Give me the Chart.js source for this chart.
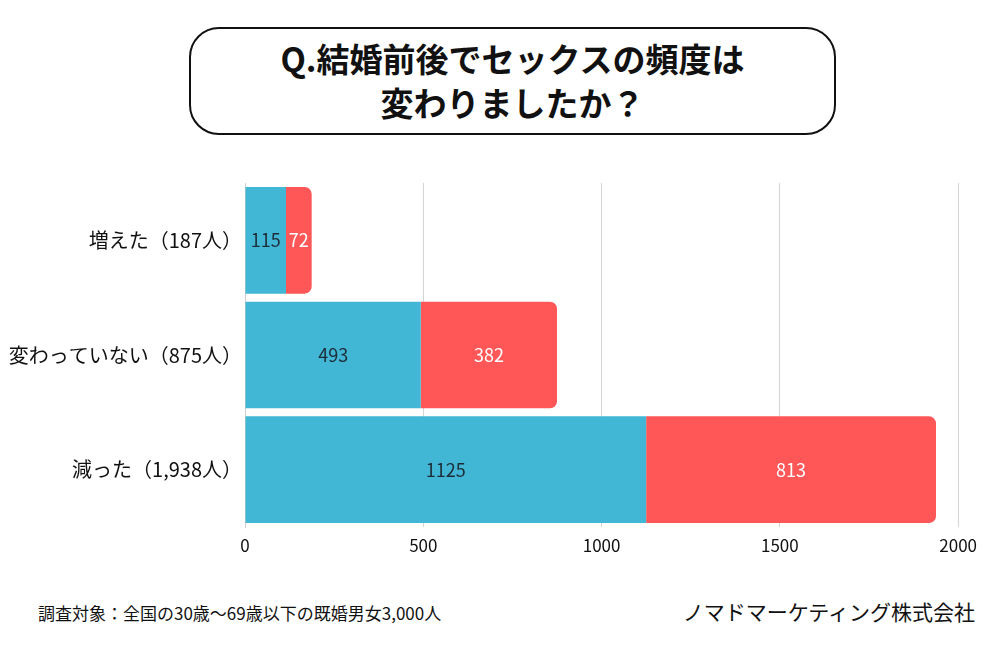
<!DOCTYPE html>
<html lang="ja">
<head>
<meta charset="UTF-8">
<title>結婚前後でセックスの頻度は変わりましたか？</title>
<script src="https://cdn.jsdelivr.net/npm/chart.js"></script>
<style>
  body { margin: 0; width: 1000px; height: 650px; background: #fff; position: relative; overflow: hidden;
         font-family: "Noto Sans CJK JP", "Noto Sans", sans-serif; color: #111; }
  #title { position: absolute; left: 189px; top: 27px; width: 643px; height: 97px;
           border: 2px solid #111; border-radius: 30px; text-align: center;
           font-weight: bold; font-size: 33px; line-height: 44px; padding-top: 7px; }
  #wrap { position: absolute; left: 0; top: 168px; width: 985px; height: 400px; }
  #note { position: absolute; left: 38px; top: 600px; font-size: 17px; }
  #company { position: absolute; right: 25px; top: 596px; font-size: 21px; }
</style>
</head>
<body>
<div id="title">Q.結婚前後でセックスの頻度は<br>変わりましたか？</div>
<div id="wrap"><canvas id="chart"></canvas></div>
<div id="note">調査対象：全国の30歳〜69歳以下の既婚男女3,000人</div>
<div id="company">ノマドマーケティング株式会社</div>
<script>
  const categories = ['増えた（187人）', '変わっていない（875人）', '減った（1,938人）'];
  const blueValues = [115, 493, 1125];
  const redValues = [72, 382, 813];
  const xTicks = [0, 500, 1000, 1500, 2000];

  // numbers in the middle of each segment
  const barLabels = {
    id: 'barLabels',
    afterDatasetsDraw(chart) {
      const ctx = chart.ctx;
      ctx.save();
      ctx.font = '18px "Noto Sans CJK JP", sans-serif';
      ctx.textAlign = 'center';
      ctx.textBaseline = 'middle';
      chart.data.datasets.forEach((ds, i) => {
        chart.getDatasetMeta(i).data.forEach((bar, j) => {
          const p = bar.getCenterPoint();
          ctx.fillStyle = ds.labelColor;
          ctx.fillText(ds.data[j], p.x, p.y);
        });
      });
      ctx.restore();
    }
  };

  new Chart(document.getElementById('chart'), {
    type: 'bar',
    data: {
      labels: categories,
      datasets: [
        { data: blueValues, backgroundColor: '#42B7D5', labelColor: '#1d2b36', borderRadius: 0 },
        { data: redValues, backgroundColor: '#FF5757', labelColor: '#ffffff', borderRadius: 7 }
      ]
    },
    options: {
      indexAxis: 'y',
      responsive: true,
      maintainAspectRatio: false,
      animation: false,
      categoryPercentage: 0.93,
      barPercentage: 1,
      layout: { padding: { top: 14, right: 7 } },
      plugins: { legend: { display: false }, tooltip: { enabled: false } },
      scales: {
        x: {
          stacked: true,
          min: 0,
          max: 2000,
          afterBuildTicks: (scale) => { scale.ticks = xTicks.map(v => ({ value: v })); },
          afterFit: (scale) => { scale.height = 41; },
          grid: { color: '#d4d4d4', drawTicks: false },
          border: { display: false },
          ticks: { padding: 8, color: '#111', font: { size: 17, family: '"Noto Sans CJK JP", sans-serif' },
                   callback: (v) => String(v) }
        },
        y: {
          stacked: true,
          afterFit: (scale) => { scale.width = 245; },
          grid: { display: false, drawTicks: false },
          border: { display: true, color: '#cfcfcf' },
          ticks: { padding: 3, color: '#111', font: { size: 20, family: '"Noto Sans CJK JP", sans-serif' } }
        }
      }
    },
    plugins: [barLabels]
  });
</script>
</body>
</html>
